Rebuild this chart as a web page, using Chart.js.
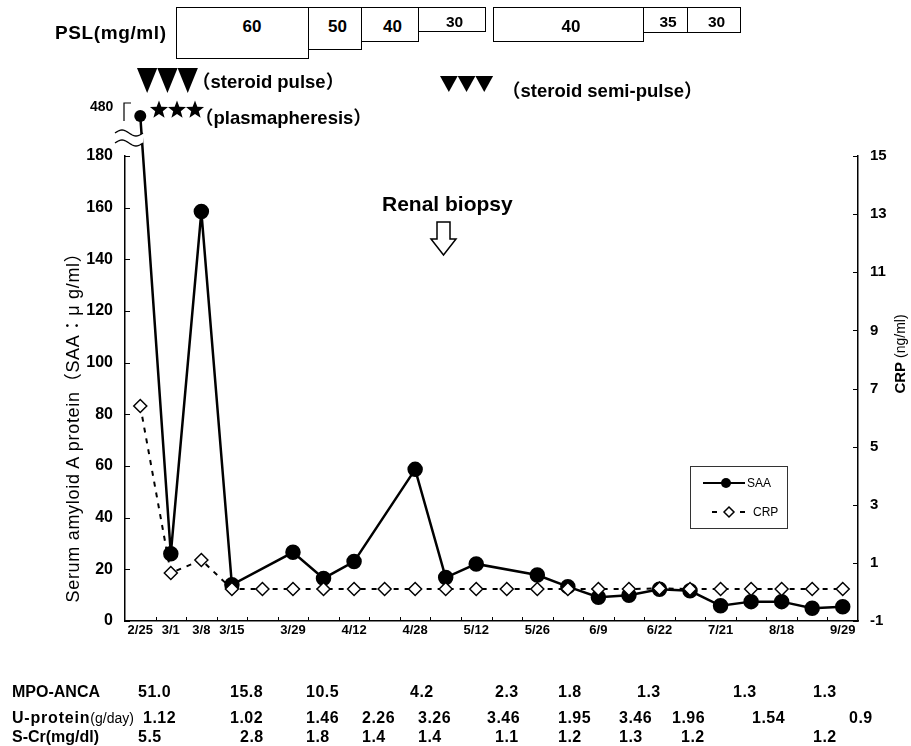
<!DOCTYPE html>
<html>
<head>
<meta charset="utf-8">
<script src="https://cdn.jsdelivr.net/npm/chart.js@4.4.1/dist/chart.umd.min.js"></script>
<style>
  body { margin: 0; background: #fff; }
  #wrap { position: relative; width: 911px; height: 746px; overflow: hidden;
          font-family: "Liberation Sans", "Noto Sans CJK JP", sans-serif; color: #000; }
  #chart { position: absolute; left: 0; top: 0; }
  .t { position: absolute; white-space: nowrap; font-weight: bold; line-height: 1;
       transform: translateY(-50%); }
  .box { position: absolute; border: 1px solid #000; box-sizing: border-box; background: #fff; }
  svg { position: absolute; left: 0; top: 0; }
</style>
</head>
<body>
<div id="wrap">
  <canvas id="chart" width="911" height="746"></canvas>
</div>
<script>
// sampling dates (blank = unlabeled sample)
const dates = ["2/25", "3/1", "3/8", "3/15", "", "3/29", "", "4/12", "", "4/28", "", "5/12",
               "", "5/26", "", "6/9", "", "6/22", "", "7/21", "", "8/18", "", "9/29"];
// serum amyloid A (ug/ml), left axis; first value sits above the axis break
const saa = [480, 26, 158.5, 14, null, 26.6, 16.5, 23, null, 58.7, 16.8, 22.1,
             null, 17.8, 13.3, 9.2, 10, 12.3, 11.7, 5.9, 7.5, 7.5, 4.9, 5.5];
// CRP (ng/ml), right axis
const crp = [6.4, 0.65, 1.1, 0.1, 0.1, 0.1, 0.1, 0.1, 0.1, 0.1, 0.1, 0.1,
             0.1, 0.1, 0.1, 0.1, 0.1, 0.12, 0.1, 0.1, 0.1, 0.1, 0.1, 0.1];

const saaAxisMax = 180;
const saaBreakLabel = "480";
const crpTicks = { min: -1, max: 15, step: 2 };

// PSL dose steps (mg/ml)
const pslDoses = ["60", "50", "40", "30", "40", "35", "30"];

// table below the chart
const mpoAnca = ["51.0", "15.8", "10.5", "4.2", "2.3", "1.8", "1.3", "1.3", "1.3"];
const uProtein = ["1.12", "1.02", "1.46", "2.26", "3.26", "3.46", "1.95", "3.46", "1.96", "1.54", "0.9"];
const sCr = ["5.5", "2.8", "1.8", "1.4", "1.4", "1.1", "1.2", "1.3", "1.2", "1.2"];

// ---- layout (pixels) ----
const pslBoxes = [[176, 7, 308, 59], [308, 7, 361, 50], [361, 7, 418, 42], [418, 7, 485, 32],
                  [493, 7, 643, 42], [643, 7, 687, 33], [687, 7, 740, 33]];
const mpoX = [138, 230, 306, 410, 495, 558, 637, 733, 813];
const uProtX = [143, 230, 306, 362, 418, 487, 558, 619, 672, 752, 849];
const sCrX = [138, 240, 306, 362, 418, 495, 558, 619, 681, 813];
const breakPlot = 195.5; // where the 480 point is drawn, in left-axis units

const wrap = document.getElementById("wrap");

function label(text, x, y, size, extra) {
  const el = document.createElement("div");
  el.className = "t";
  el.textContent = text;
  el.style.left = x + "px";
  el.style.top = y + "px";
  el.style.fontSize = size + "px";
  Object.assign(el.style, extra || {});
  wrap.appendChild(el);
  return el;
}

// PSL boxes
pslBoxes.forEach((b, i) => {
  const d = document.createElement("div");
  d.className = "box";
  d.style.left = b[0] + "px";
  d.style.top = b[1] + "px";
  d.style.width = (b[2] - b[0] + 1) + "px";
  d.style.height = (b[3] - b[1]) + "px";
  wrap.appendChild(d);
  const short = b[3] - b[1] < 30;
  const el = label(pslDoses[i], (b[0] + b[2]) / 2 + (i === 0 ? 10 : 3), b[1] + (short ? 15 : 19), short ? 15.5 : 17);
  el.style.transform = "translate(-50%, -50%)";
});
label("PSL(mg/ml)", 55, 32, 19, { letterSpacing: "0.6px" });

// shapes: pulse triangles, stars, biopsy arrow
const NS = "http://www.w3.org/2000/svg";
const svg = document.createElementNS(NS, "svg");
svg.setAttribute("width", 911);
svg.setAttribute("height", 746);
function poly(pts, fill, stroke) {
  const p = document.createElementNS(NS, "polygon");
  p.setAttribute("points", pts.map((q) => q.join(",")).join(" "));
  p.setAttribute("fill", fill);
  if (stroke) { p.setAttribute("stroke", stroke); p.setAttribute("stroke-width", 1.5); }
  svg.appendChild(p);
}
function triangles(x0, y0, w, h) {
  for (let i = 0; i < 3; i++) {
    poly([[x0 + i * w, y0], [x0 + (i + 1) * w, y0], [x0 + (i + 0.5) * w, y0 + h]], "#000");
  }
}
function star(cx, cy, r) {
  const pts = [];
  for (let k = 0; k < 10; k++) {
    const rr = k % 2 ? r * 0.42 : r;
    const a = -Math.PI / 2 + (k * Math.PI) / 5;
    pts.push([cx + rr * Math.cos(a), cy + rr * Math.sin(a)]);
  }
  poly(pts, "#000");
}
triangles(137, 68, 20.3, 25);
triangles(440, 76, 17.7, 16);
[159, 177, 195].forEach((cx) => star(cx, 110, 9.5));
poly([[437, 222], [450, 222], [450, 239], [456, 239], [443.5, 255], [431, 239], [437, 239]], "#fff", "#000");
wrap.appendChild(svg);

label("（steroid pulse）", 192, 82, 18.5);
label("（plasmapheresis）", 195, 118, 18.5);
label("（steroid semi-pulse）", 502, 91, 18.5);
label("Renal biopsy", 382, 203, 21);
label(saaBreakLabel, 90, 106, 14);

// axis titles
label("Serum amyloid A protein（SAA：μ g/ml）", 73, 423, 18, {
  fontWeight: "normal", letterSpacing: "0.7px", transform: "translate(-50%, -50%) rotate(-90deg)",
});
const crpTitle = label("CRP ", 899, 354, 15, { transform: "translate(-50%, -50%) rotate(-90deg)" });
const crpUnit = document.createElement("span");
crpUnit.textContent = "(ng/ml)";
crpUnit.style.fontWeight = "normal";
crpUnit.style.fontSize = "14px";
crpTitle.appendChild(crpUnit);

// legend texts
label("SAA", 747, 483, 12, { fontWeight: "normal" });
label("CRP", 753, 512, 12, { fontWeight: "normal" });

// table
label("MPO-ANCA", 12, 692, 16);
const up = label("U-protein", 12, 718, 16, { letterSpacing: "0.8px" });
const unit = document.createElement("span");
unit.textContent = "(g/day)";
unit.style.fontWeight = "normal";
unit.style.fontSize = "14px";
unit.style.letterSpacing = "0";
up.appendChild(unit);
label("S-Cr(mg/dl)", 12, 737, 16);
mpoAnca.forEach((v, i) => label(v, mpoX[i], 692, 16, { letterSpacing: "0.5px" }));
uProtein.forEach((v, i) => label(v, uProtX[i], 718, 16, { letterSpacing: "0.5px" }));
sCr.forEach((v, i) => label(v, sCrX[i], 737, 16, { letterSpacing: "0.5px" }));

// inner ticks, axis break, out-of-area point, legend marks
const decor = {
  id: "decor",
  afterDraw(chart) {
    const { ctx, chartArea: a, scales } = chart;
    const { x, y, y1 } = scales;
    ctx.save();
    ctx.strokeStyle = "#000";
    ctx.lineWidth = 1;
    ctx.beginPath();
    y.ticks.forEach((t, i) => {
      const py = Math.round(y.getPixelForTick(i)) + 0.5;
      ctx.moveTo(a.left, py);
      ctx.lineTo(a.left + 5, py);
    });
    y1.ticks.forEach((t, i) => {
      const py = Math.round(y1.getPixelForTick(i)) + 0.5;
      ctx.moveTo(a.right, py);
      ctx.lineTo(a.right - 5, py);
    });
    for (let i = 0; i < dates.length - 1; i++) {
      const px = Math.round((x.getPixelForValue(i) + x.getPixelForValue(i + 1)) / 2) + 0.5;
      ctx.moveTo(px, a.bottom);
      ctx.lineTo(px, a.bottom - 4);
    }
    ctx.stroke();

    // SAA points beyond the axis break (skipped by Chart.js outside the area)
    const meta = chart.getDatasetMeta(0);
    ctx.fillStyle = "#000";
    saa.forEach((v, i) => {
      if (v === null || v <= saaAxisMax) return;
      const p = meta.data[i];
      ctx.beginPath();
      ctx.arc(p.x, p.y, 6, 0, Math.PI * 2);
      ctx.fill();
    });

    // axis break (two waves with a white gap)
    const bx0 = a.left - 10, bx1 = a.left + 18;
    const wave = (y0, t) => y0 - 3 * Math.sin(t * 2 * Math.PI);
    ctx.beginPath();
    for (let k = 0; k <= 20; k++) ctx.lineTo(bx0 + (bx1 - bx0) * k / 20, wave(133, k / 20));
    for (let k = 20; k >= 0; k--) ctx.lineTo(bx0 + (bx1 - bx0) * k / 20, wave(143, k / 20));
    ctx.closePath();
    ctx.fillStyle = "#fff";
    ctx.fill();
    ctx.lineWidth = 1.3;
    [133, 143].forEach((yy) => {
      ctx.beginPath();
      for (let k = 0; k <= 20; k++) ctx.lineTo(bx0 + (bx1 - bx0) * k / 20, wave(yy, k / 20));
      ctx.stroke();
    });
    // bracket at 480
    ctx.lineWidth = 1.2;
    ctx.beginPath();
    ctx.moveTo(a.left - 1, 121);
    ctx.lineTo(a.left - 1, 103);
    ctx.lineTo(a.left + 6, 103);
    ctx.stroke();

    // legend
    ctx.lineWidth = 1;
    ctx.strokeStyle = "#333";
    ctx.strokeRect(690.5, 466.5, 97, 62);
    ctx.strokeStyle = "#000";
    ctx.lineWidth = 2;
    ctx.beginPath();
    ctx.moveTo(703, 483); ctx.lineTo(745, 483);
    ctx.moveTo(712, 512); ctx.lineTo(717, 512);
    ctx.moveTo(740, 512); ctx.lineTo(745, 512);
    ctx.stroke();
    ctx.fillStyle = "#000";
    ctx.beginPath();
    ctx.arc(726, 483, 5, 0, Math.PI * 2);
    ctx.fill();
    ctx.fillStyle = "#fff";
    ctx.lineWidth = 1.5;
    ctx.beginPath();
    ctx.moveTo(729, 507); ctx.lineTo(734, 512); ctx.lineTo(729, 517); ctx.lineTo(724, 512);
    ctx.closePath();
    ctx.fill();
    ctx.stroke();
    ctx.restore();
  },
};

const tickFont = { family: "Liberation Sans", weight: "bold" };

new Chart(document.getElementById("chart"), {
  type: "line",
  data: {
    labels: dates,
    datasets: [
      {
        label: "SAA",
        data: saa.map((v) => (v !== null && v > saaAxisMax ? breakPlot : v)),
        yAxisID: "y",
        order: 1,
        clip: false,
        spanGaps: true,
        borderColor: "#000",
        borderWidth: 2.5,
        pointStyle: "circle",
        pointRadius: 6.5,
        pointBackgroundColor: "#000",
        pointBorderColor: "#000",
        tension: 0,
      },
      {
        label: "CRP",
        data: crp,
        yAxisID: "y1",
        order: 0,
        borderColor: "#000",
        borderWidth: 2,
        borderDash: [5, 6],
        pointStyle: "rectRot",
        pointRadius: 6.5,
        pointBackgroundColor: "#fff",
        pointBorderColor: "#000",
        pointBorderWidth: 1.5,
        tension: 0,
      },
    ],
  },
  options: {
    responsive: false,
    animation: false,
    layout: { padding: { top: 156, bottom: 95, left: 0, right: 0 } },
    plugins: { legend: { display: false }, tooltip: { enabled: false } },
    scales: {
      x: {
        type: "category",
        offset: true,
        grid: { drawOnChartArea: false, drawTicks: false },
        border: { color: "#000", width: 1.5 },
        ticks: { autoSkip: false, maxRotation: 0, padding: 2, color: "#000", font: { ...tickFont, size: 13 } },
        afterFit: (s) => { s.height = 30; },
      },
      y: {
        position: "left",
        min: 0,
        max: saaAxisMax,
        grid: { drawOnChartArea: false, drawTicks: false },
        border: { color: "#000", width: 1.5 },
        ticks: { stepSize: 20, padding: 12, color: "#000", font: { ...tickFont, size: 16 } },
        afterFit: (s) => { s.width = 125; },
      },
      y1: {
        position: "right",
        min: crpTicks.min,
        max: crpTicks.max,
        grid: { drawOnChartArea: false, drawTicks: false },
        border: { color: "#000", width: 1.5 },
        ticks: { stepSize: crpTicks.step, padding: 12, color: "#000", font: { ...tickFont, size: 15 } },
        afterFit: (s) => { s.width = 53; },
      },
    },
  },
  plugins: [decor],
});
</script>
</body>
</html>
